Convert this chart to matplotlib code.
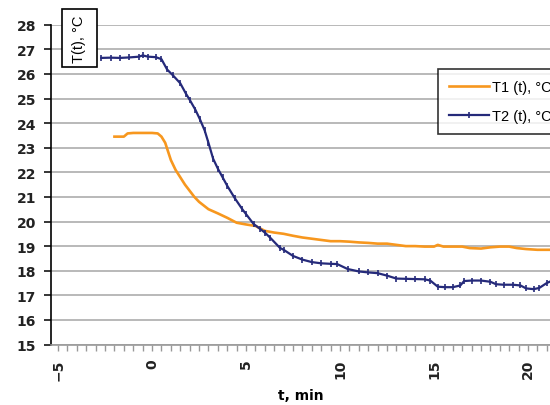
import matplotlib
matplotlib.use("Agg")
import matplotlib.pyplot as plt
from matplotlib.ticker import MultipleLocator
from matplotlib.patches import Rectangle

# ---- data ----
t1 = [-2.0, -1.5, -1.3, -1.0, -0.5, 0.0, 0.3, 0.5, 0.7, 1.0,
      1.25, 1.5, 1.75, 2.0, 2.25, 2.5, 3.0, 3.5, 4.0, 4.5,
      5.0, 5.5, 6.0, 6.5, 7.0, 7.5, 8.0, 8.5, 9.0, 9.5,
      10.0, 10.5, 11.0, 11.5, 12.0, 12.5, 13.0, 13.5, 14.0, 14.5,
      15.0, 15.2, 15.5, 16.0, 16.5, 16.9, 17.5, 18.0, 18.5, 19.0,
      19.4, 19.9, 20.5, 21.2]
T1 = [23.45, 23.45, 23.58, 23.6, 23.6, 23.6, 23.58, 23.45, 23.2, 22.5,
      22.1, 21.8, 21.5, 21.25, 21.0, 20.8, 20.5, 20.33, 20.15, 19.95,
      19.88, 19.82, 19.62, 19.55, 19.5, 19.42, 19.35, 19.3, 19.25, 19.2,
      19.2, 19.18, 19.15, 19.13, 19.1, 19.1, 19.05, 19.0, 19.0, 18.98,
      18.98, 19.05, 18.98, 18.98, 18.98, 18.92, 18.9, 18.95, 18.98, 18.98,
      18.92, 18.88, 18.85, 18.85]

t2 = [-2.7, -2.2, -1.7, -1.2, -0.7, -0.5, -0.2, 0.2, 0.5, 0.8,
      1.1, 1.5, 1.8, 2.0, 2.3, 2.55, 2.8, 3.0, 3.25, 3.5,
      3.75, 4.0, 4.4, 4.8, 5.0, 5.4, 5.75, 6.0, 6.3, 6.8,
      7.0, 7.5, 8.0, 8.5, 9.0, 9.5, 9.85, 10.4, 11.0, 11.5,
      12.0, 12.5, 13.0, 13.5, 14.0, 14.5, 14.8, 15.2, 15.6, 16.0,
      16.4, 16.6, 17.0, 17.5, 18.0, 18.3, 18.7, 19.2, 19.6, 19.9,
      20.3, 20.6, 21.0, 21.3]
T2 = [26.65, 26.66, 26.65, 26.67, 26.7, 26.75, 26.7, 26.68, 26.6, 26.18,
      25.95, 25.62, 25.2, 24.95, 24.55, 24.15, 23.7, 23.2, 22.55, 22.15,
      21.8, 21.45, 20.95, 20.5, 20.3, 19.9, 19.7, 19.55, 19.33, 18.93,
      18.85, 18.6, 18.45, 18.35, 18.3, 18.28, 18.27, 18.07, 17.97, 17.93,
      17.9, 17.8, 17.68, 17.67, 17.66, 17.65, 17.6, 17.35, 17.33, 17.33,
      17.4, 17.58, 17.6, 17.6, 17.55, 17.45, 17.43, 17.43, 17.4, 17.28,
      17.25, 17.3, 17.5, 17.6]

label1 = "T1 (t), °C"
label2 = "T2 (t), °C"
ylabel = "T(t), °C"
xlabel = "t, min"
xticks = [-5, 0, 5, 10, 15, 20]
yticks = list(range(15, 29))

# ---- figure ----
W, H = 550, 406
fig = plt.figure(figsize=(5.5, 4.06), dpi=100)
ax = fig.add_axes([0.0936, 0.149, 1 - 0.0936, 0.7877])

orange = "#F7971E"
navy = "#252A7A"

ax.plot(t1, T1, color=orange, lw=1.9, label=label1, zorder=3)
ax.plot(t2, T2, color=navy, lw=1.6, marker="|", markersize=5, mew=1.2,
        label=label2, zorder=4)

ax.set_xlim(-5.35, 21.17)
ax.set_ylim(15, 28)
ax.set_yticks(yticks)
ax.set_xticks(xticks)
ax.xaxis.set_minor_locator(MultipleLocator(0.5))

ax.grid(axis="y", color="#A6A6A6", lw=1.1, zorder=0)
ax.set_axisbelow(True)

for s in ["top", "right"]:
    ax.spines[s].set_visible(False)
ax.spines["left"].set_color("black")
ax.spines["left"].set_linewidth(1.2)
ax.spines["bottom"].set_color("#999999")
ax.spines["bottom"].set_linewidth(1.2)

ax.tick_params(axis="y", direction="out", length=5, width=1.1, color="black",
               labelsize=10, pad=6, labelcolor="#222222")
ax.tick_params(axis="x", which="both", direction="out", length=4, width=1,
               color="#999999", labelsize=10, pad=6, labelcolor="#222222")
for lab in ax.get_yticklabels():
    lab.set_fontweight("bold")
for lab in ax.get_xticklabels():
    lab.set_fontweight("bold")
    lab.set_rotation(90)

ax.set_xlabel(xlabel, fontsize=10, fontweight="bold", labelpad=6)

# boxed y-axis title at the top-left
box = Rectangle((62 / W, 1 - 68 / H), 35 / W, 58 / H, transform=fig.transFigure,
                fc="white", ec="black", lw=1.2, zorder=9)
fig.add_artist(box)
fig.text(79.5 / W, 1 - 39 / H, ylabel, rotation=90, fontsize=10.5,
         family="Liberation Sans", ha="center", va="center", zorder=10)

leg = ax.legend(loc="upper left", bbox_to_anchor=(0.776, 0.861), borderaxespad=0,
                prop={"family": "Liberation Sans", "size": 10.5},
                frameon=True, fancybox=False, shadow=False,
                handlelength=2.75, handletextpad=0.15, labelspacing=1.05,
                borderpad=0.75, numpoints=1)
leg.get_frame().set_edgecolor("black")
leg.get_frame().set_linewidth(1.2)

fig.savefig("out.png", dpi=100)
